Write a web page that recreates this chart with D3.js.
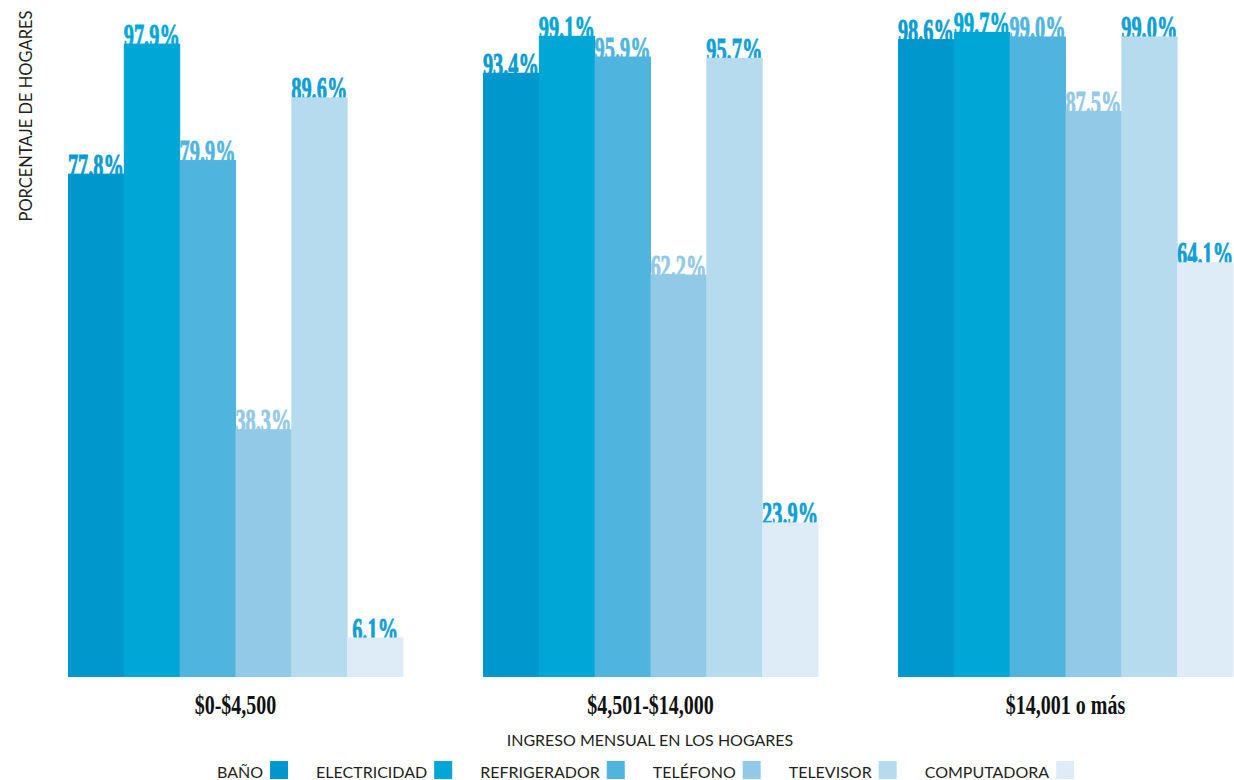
<!DOCTYPE html>
<html lang="es">
<head>
<meta charset="utf-8">
<script src="https://cdn.jsdelivr.net/npm/d3@7/dist/d3.min.js"></script>
<style>
  html, body { margin: 0; padding: 0; background: #ffffff; }
  svg { display: block; }
  .val { font-family: "Liberation Serif", "Times New Roman", serif; font-weight: bold; }
  .grp { font-family: "Liberation Serif", "Times New Roman", serif; font-weight: bold; }
  .ttl { font-family: "Lato", "Open Sans", sans-serif; fill: #231f20; }
</style>
</head>
<body>
<svg id="chart" width="1234" height="780"></svg>
<script>
// Income brackets and household services
const categories = ["$0-$4,500", "$4,501-$14,000", "$14,001 o más"];
const series = ["BAÑO", "ELECTRICIDAD", "REFRIGERADOR", "TELÉFONO", "TELEVISOR", "COMPUTADORA"];

// Percentage of households per bracket, one array per service
const bano         = [77.8, 93.4, 98.6];
const electricidad = [97.9, 99.1, 99.7];
const refrigerador = [79.9, 95.9, 99.0];
const telefono     = [38.3, 62.2, 87.5];
const televisor    = [89.6, 95.7, 99.0];
const computadora  = [6.1, 23.9, 64.1];

const values = [bano, electricidad, refrigerador, telefono, televisor, computadora];

const barColors   = ["#0098cc", "#00a7d6", "#50b5de", "#92c9e6", "#b6dbee", "#deecf8"];
const labelColors = ["#0a9bd0", "#00a7d6", "#50b5de", "#92c9e6", "#0f9fd6", "#0f9fd6"];

const svg = d3.select("#chart");

const x0 = d3.scaleBand().domain(categories).range([68, 1233]).paddingInner(80 / 415).paddingOuter(0);
const x1 = d3.scaleBand().domain(series).range([0, x0.bandwidth()]).padding(0);
const y  = d3.scaleLinear().domain([0, 100]).range([677, 30]);

const rows = [];
categories.forEach((c, ci) => {
  series.forEach((s, si) => {
    rows.push({ cat: c, ser: s, si: si, v: values[si][ci] });
  });
});

const groups = svg.append("g").attr("class", "bars");

// Value labels first; the bars are painted over their lower edge
groups.selectAll("text.val")
  .data(rows)
  .join("text")
  .attr("class", "val")
  .attr("text-anchor", "middle")
  .attr("font-size", 34)
  .attr("fill", d => labelColors[d.si])
  .attr("stroke", d => labelColors[d.si])
  .attr("stroke-width", 0.9)
  .attr("transform", d => {
    const cx = x0(d.cat) + x1(d.ser) + x1.bandwidth() / 2;
    return `translate(${cx},${y(d.v) + 3}) scale(0.6,1)`;
  })
  .text(d => d.v.toFixed(1) + "%");

groups.selectAll("rect")
  .data(rows)
  .join("rect")
  .attr("x", d => x0(d.cat) + x1(d.ser))
  .attr("y", d => y(d.v))
  .attr("width", x1.bandwidth() + 0.5)
  .attr("height", d => y(0) - y(d.v))
  .attr("fill", d => barColors[d.si]);

// Category axis labels
const xAxis = d3.axisBottom(x0).tickSize(0).tickPadding(0);
const ax = svg.append("g").attr("transform", `translate(0,${y(0)})`).call(xAxis);
ax.select(".domain").remove();
ax.selectAll(".tick text")
  .attr("class", "grp")
  .attr("font-size", 27)
  .attr("fill", "#111")
  .attr("dy", 0)
  .attr("y", 0)
  .attr("transform", "translate(0,37) scale(0.74,1)");

// Axis titles
svg.append("text")
  .attr("class", "ttl")
  .attr("x", 650).attr("y", 746)
  .attr("text-anchor", "middle")
  .attr("font-size", 16)
  .text("INGRESO MENSUAL EN LOS HOGARES");

svg.append("text")
  .attr("class", "ttl")
  .attr("transform", "translate(32,116) rotate(-90)")
  .attr("text-anchor", "middle")
  .attr("font-size", 16.5)
  .text("PORCENTAJE DE HOGARES");

// Legend: name followed by its swatch
const legend = svg.append("g").attr("class", "legend");
let lx = 217;
series.forEach((s, i) => {
  const t = legend.append("text")
    .attr("class", "ttl")
    .attr("x", lx).attr("y", 778)
    .attr("font-size", 16)
    .text(s);
  const w = t.node().getComputedTextLength();
  legend.append("rect")
    .attr("x", lx + w + 7).attr("y", 761)
    .attr("width", 18).attr("height", 18)
    .attr("fill", barColors[i]);
  lx += w + 7 + 18 + 28;
});
</script>
</body>
</html>
